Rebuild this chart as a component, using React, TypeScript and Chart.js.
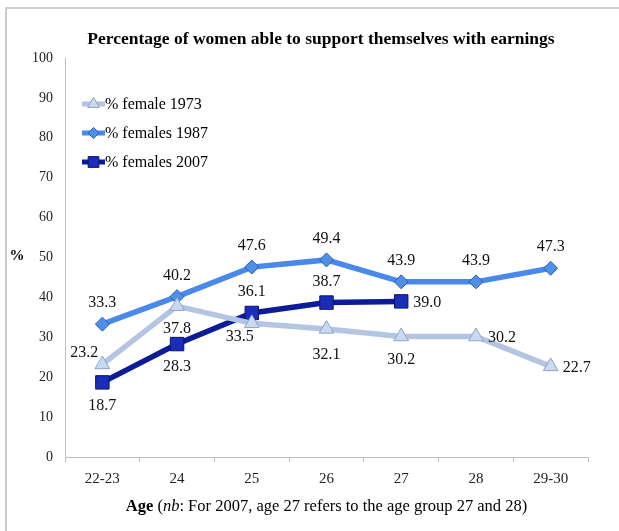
import React, { useEffect, useRef } from 'react';
import { Chart, registerables } from 'chart.js';
Chart.register(...registerables);

const categories = ['22-23', '24', '25', '26', '27', '28', '29-30'];
const female1973 = [23.2, 37.8, 33.5, 32.1, 30.2, 30.2, 22.7];
const females1987 = [33.3, 40.2, 47.6, 49.4, 43.9, 43.9, 47.3];
const females2007: (number | null)[] = [18.7, 28.3, 36.1, 38.7, 39.0, null, null];
const seriesNames = ['% female 1973', '% females 1987', '% females 2007'];
const titleText = 'Percentage of women able to support themselves with earnings';

const place1973 = ['left', 'below', 'belowLeft', 'belowFar', 'below', 'right', 'right'];
const place1987 = ['above', 'above', 'above', 'above', 'above', 'above', 'above'];
const place2007 = ['below', 'below', 'above', 'above', 'right', 'none', 'none'];

const SERIF = '"Liberation Serif", "Times New Roman", serif';
const styles = [
  { line: '#B3C5E2', fill: '#C9D9F0', border: '#8EA5C9', shape: 'triangle', radius: 8.5 },
  { line: '#4A89EC', fill: '#4E8FE8', border: '#2C5EAE', shape: 'rectRot', radius: 7 },
  { line: '#0C1C98', fill: '#1A2DB8', border: '#0A1470', shape: 'rect', radius: 9.5 },
];

function drawMarker(ctx: any, shape: string, r: number, x: number, y: number) {
  ctx.beginPath();
  if (shape === 'rect') {
    const s = r * Math.SQRT1_2;
    ctx.rect(x - s, y - s, 2 * s, 2 * s);
  } else if (shape === 'rectRot') {
    ctx.moveTo(x, y - r); ctx.lineTo(x + r, y); ctx.lineTo(x, y + r); ctx.lineTo(x - r, y); ctx.closePath();
  } else {
    const h = r * 1.5;
    const w = r * Math.sqrt(3);
    ctx.moveTo(x, y - r); ctx.lineTo(x + w / 2, y + h - r); ctx.lineTo(x - w / 2, y + h - r); ctx.closePath();
  }
  ctx.fill();
  ctx.stroke();
}

const overlay = {
  id: 'overlay',
  afterDraw(chart: any) {
    const ctx = chart.ctx;
    const area = chart.chartArea;
    ctx.save();
    // frame
    ctx.strokeStyle = '#cccccc';
    ctx.lineWidth = 2;
    ctx.beginPath();
    ctx.moveTo(6, 531);
    ctx.lineTo(6, 8);
    ctx.lineTo(619, 8);
    ctx.stroke();
    // title
    ctx.fillStyle = '#000';
    ctx.font = 'bold 17.5px ' + SERIF;
    ctx.textAlign = 'center';
    ctx.textBaseline = 'middle';
    ctx.fillText(titleText, 321, 39);
    // y title
    ctx.font = 'bold 15px ' + SERIF;
    ctx.fillText('%', 17, 256);
    // x title (mixed styles)
    const parts = [
      { t: 'Age', f: 'bold 16.5px ' + SERIF },
      { t: ' (', f: '16.5px ' + SERIF },
      { t: 'nb', f: 'italic 16.5px ' + SERIF },
      { t: ': For 2007, age 27 refers to the age group 27 and 28)', f: '16.5px ' + SERIF },
    ];
    let total = 0;
    parts.forEach((p) => { ctx.font = p.f; total += ctx.measureText(p.t).width; });
    let x = (area.left + area.right) / 2 - total / 2;
    ctx.textAlign = 'left';
    parts.forEach((p) => { ctx.font = p.f; ctx.fillText(p.t, x, 507); x += ctx.measureText(p.t).width; });
    // legend
    const ly = [104, 133, 162];
    seriesNames.forEach((name, i) => {
      const s = styles[i];
      ctx.strokeStyle = s.line;
      ctx.lineWidth = 5;
      ctx.beginPath();
      ctx.moveTo(82, ly[i]);
      ctx.lineTo(105, ly[i]);
      ctx.stroke();
      ctx.fillStyle = s.fill;
      ctx.strokeStyle = s.border;
      ctx.lineWidth = 1;
      drawMarker(ctx, s.shape, s.radius * 0.8, 93.5, ly[i]);
      ctx.fillStyle = '#000';
      ctx.font = '16px ' + SERIF;
      ctx.textAlign = 'left';
      ctx.textBaseline = 'middle';
      ctx.fillText(name, 105, ly[i] + 1);
    });
    // data labels
    const places = [place1973, place1987, place2007];
    ctx.font = '16px ' + SERIF;
    ctx.fillStyle = '#111';
    chart.data.datasets.forEach((ds: any, di: number) => {
      const meta = chart.getDatasetMeta(di);
      meta.data.forEach((pt: any, i: number) => {
        const v = ds.data[i];
        if (v == null) return;
        const p = places[di][i];
        const txt = v.toFixed(1);
        let tx = pt.x, ty = pt.y;
        ctx.textBaseline = 'middle';
        if (p === 'above') { ctx.textAlign = 'center'; ty -= 21; }
        else if (p === 'below') { ctx.textAlign = 'center'; ty += 23; }
        else if (p === 'belowFar') { ctx.textAlign = 'center'; ty += 26; }
        else if (p === 'belowLeft') { ctx.textAlign = 'center'; tx -= 12; ty += 13; }
        else if (p === 'right') { ctx.textAlign = 'left'; tx += 12; ty += 1; }
        else if (p === 'left') { ctx.textAlign = 'right'; tx -= 4; ty -= 12; }
        ctx.fillText(txt, tx, ty);
      });
    });
    ctx.restore();
  },
};

export default function App() {
  const ref = useRef<HTMLCanvasElement>(null);
  useEffect(() => {
    const mk = (label: string, data: any[], i: number) => ({
      label,
      data,
      borderColor: styles[i].line,
      backgroundColor: styles[i].fill,
      borderWidth: 5.5,
      pointStyle: styles[i].shape,
      pointRadius: styles[i].radius,
      pointBackgroundColor: styles[i].fill,
      pointBorderColor: styles[i].border,
      pointBorderWidth: 1,
      spanGaps: false,
      tension: 0,
    });
    const chart = new Chart(ref.current!, {
      type: 'line',
      data: {
        labels: categories,
        datasets: [
          mk(seriesNames[0], female1973, 0),
          mk(seriesNames[1], females1987, 1),
          mk(seriesNames[2], females2007, 2),
        ],
      },
      options: {
        animation: false,
        responsive: false,
        devicePixelRatio: 1,
        layout: { padding: { top: 58, right: 31, left: 0, bottom: 0 } },
        plugins: { legend: { display: false }, title: { display: false }, tooltip: { enabled: false } },
        scales: {
          x: {
            offset: true,
            grid: { display: true, offset: true, drawOnChartArea: false, drawTicks: true, tickLength: 5, color: '#bfbfbf' },
            border: { display: true, color: '#bfbfbf', width: 1 },
            ticks: { color: '#222', font: { family: SERIF, size: 15 }, padding: 8, maxRotation: 0 },
            afterFit: (s: any) => { s.height = 74; },
          },
          y: {
            min: 0,
            max: 100,
            ticks: { stepSize: 10, color: '#222', font: { family: SERIF, size: 14 }, padding: 12 },
            grid: { display: false, drawTicks: false },
            border: { display: true, color: '#bfbfbf', width: 1 },
            afterFit: (s: any) => { s.width = 65; },
          },
        },
      } as any,
      plugins: [overlay],
    });
    return () => chart.destroy();
  }, []);
  return (
    <div style={{ position: 'fixed', left: 0, top: 0, width: 619, height: 531, background: '#fff' }}>
      <canvas ref={ref} width={619} height={531} style={{ width: 619, height: 531 }} />
    </div>
  );
}
